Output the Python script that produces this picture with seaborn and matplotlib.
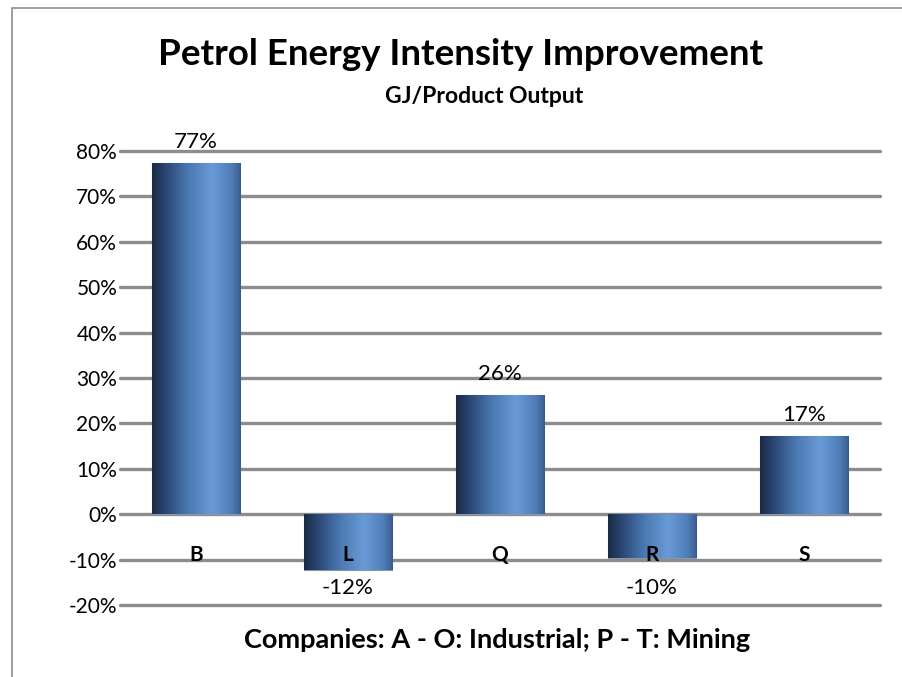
import matplotlib
matplotlib.use("Agg")
import matplotlib.pyplot as plt
from matplotlib.colors import LinearSegmentedColormap
from matplotlib.patches import Rectangle
import numpy as np
import pandas as pd
import seaborn as sns

companies = ["B", "L", "Q", "R", "S"]
improvement = [0.774, -0.123, 0.263, -0.097, 0.173]
labels = ["77%", "-12%", "26%", "-10%", "17%"]
yticks = [-0.2, -0.1, 0.0, 0.1, 0.2, 0.3, 0.4, 0.5, 0.6, 0.7, 0.8]

sns.set_theme(style="white")
plt.rcParams["font.family"] = ["Lato", "DejaVu Sans"]
plt.rcParams["text.color"] = "black"
plt.rcParams["ytick.color"] = "black"

df = pd.DataFrame({"company": companies, "value": improvement})

fig = plt.figure(figsize=(9.02, 6.77), dpi=100)
ax = fig.add_axes([120 / 902, 72 / 677, 760 / 902, 454 / 677])

sns.barplot(data=df, x="company", y="value", color="#4a78b0", width=0.58,
            ax=ax, zorder=3)

# gradient fill like the Excel cylinder look
cmap = LinearSegmentedColormap.from_list("bar", [
    (0.0, "#1b2b45"), (0.12, "#26406a"), (0.4, "#4a77b0"),
    (0.68, "#6a9bd8"), (0.9, "#4f7db7"), (1.0, "#3a5c8c")])
grad = np.linspace(0, 1, 256).reshape(1, -1)
for p in ax.patches:
    x0, y0 = p.get_x(), p.get_y()
    w, h = p.get_width(), p.get_height()
    im = ax.imshow(grad, cmap=cmap, aspect="auto", zorder=4,
                   extent=[x0, x0 + w, min(y0, y0 + h), max(y0, y0 + h)])
    im.set_clip_path(p)
    p.set_edgecolor("#8a96a8")
    p.set_linewidth(0.8)

ax.set_xlim(-0.5, len(companies) - 0.5)
ax.set_ylim(-0.2, 0.8)
for t in yticks:
    ax.axhline(t, color="#8c8c8c", lw=2.4, zorder=2, clip_on=False)

ax.set_yticks(yticks)
ax.set_yticklabels([f"{int(round(t * 100))}%" for t in yticks], fontsize=15)
ax.tick_params(axis="y", length=0, pad=2, labelcolor="black")
ax.set_xticks([])
ax.set_xlabel("")
ax.set_ylabel("")
for s in ax.spines.values():
    s.set_visible(False)

for i, (v, lab) in enumerate(zip(improvement, labels)):
    if v >= 0:
        ly = v + 0.045
    else:
        ly = min(v - 0.03, -0.163)
    ax.text(i, ly, lab, ha="center", va="center", fontsize=16, zorder=6)
    ax.text(i, -0.09, companies[i], ha="center", va="center", fontsize=15,
            fontweight="bold", zorder=6)

fig.text(0.511, 0.919, "Petrol Energy Intensity Improvement", ha="center",
         va="center", fontsize=26.5, fontweight="bold")
fig.text(0.537, 0.857, "GJ/Product Output", ha="center", va="center",
         fontsize=16.5, fontweight="bold")
fig.text(0.551, 0.055, "Companies: A - O: Industrial; P - T: Mining",
         ha="center", va="center", fontsize=19.5, fontweight="bold")

fig.patches.append(Rectangle((12 / 902, -0.1), 1.2, 1.1 - 8 / 677,
                             transform=fig.transFigure, fill=False,
                             edgecolor="#8c8c8c", lw=1.2))

fig.savefig("out.png", dpi=100)
